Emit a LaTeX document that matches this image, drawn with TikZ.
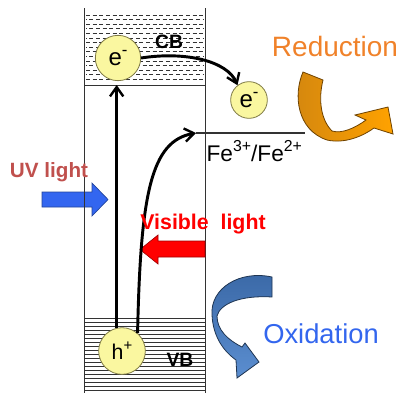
\documentclass[tikz,border=0pt]{standalone}
\usepackage{graphicx}
\usepackage{fontspec}
\setmainfont{Liberation Sans}
\usetikzlibrary{arrows.meta}
\newcommand\upx[1]{\raisebox{0.42em}{\scalebox{0.7}{#1}}}
\definecolor{ballfill}{HTML}{FAF7A0}
\definecolor{balledge}{HTML}{7F7A45}
\definecolor{lineg}{HTML}{333333}
\definecolor{uvtext}{HTML}{C0504D}
\definecolor{uvfill}{HTML}{3366F0}
\definecolor{uvedge}{HTML}{22449A}
\definecolor{visred}{HTML}{FF0000}
\definecolor{visedge}{HTML}{A00000}
\definecolor{redtext}{HTML}{F0822A}
\definecolor{oxtext}{HTML}{3366EE}
\definecolor{orA}{HTML}{D4870F}
\definecolor{orB}{HTML}{FFA200}
\definecolor{oredge}{HTML}{6E4200}
\definecolor{blA}{HTML}{3A68A6}
\definecolor{blB}{HTML}{5B8ED0}
\definecolor{bledge}{HTML}{1F3552}
\tikzset{
  boxline/.style={draw=lineg,line width=0.7pt},
  cbdash/.style={draw=lineg,line width=0.6pt,dash pattern=on 3pt off 2pt},
  vbline/.style={draw=lineg,line width=0.45pt},
  ball/.style={circle,fill=ballfill,draw=balledge,line width=0.6pt,inner sep=0pt,font=\fontsize{18}{18}\selectfont},
  carrier/.style={line width=2.2pt,black,-{Straight Barb[length=7pt,width=10pt,line width=1.8pt]}},
  bandlabel/.style={font=\fontsize{14.5}{15}\selectfont\bfseries},
}
\begin{document}
\begin{tikzpicture}[x=0.75pt,y=-0.75pt]
\useasboundingbox (0,0) rectangle (398,393);
% UV arrow (behind the box line)
\draw[fill=uvfill,draw=uvedge,line width=0.5pt] (42,192) -- (92,192) -- (92,183) -- (108,199.5) -- (92,216) -- (92,207) -- (42,207) -- cycle;
% CB dashes
\foreach \y in {15,24.2,...,83} \draw[cbdash] (86,\y) -- (204,\y);
\foreach \y in {19.6,28.8,...,83} \draw[cbdash,dash phase=2.5pt] (86,\y) -- (204,\y);
% VB lines
\foreach \y in {318,322,...,391} \draw[vbline] (84,\y) -- (205,\y);
% box
\coordinate (tl) at (84,8);
\coordinate (bl) at (84,393);
\coordinate (tr) at (205,8);
\coordinate (br) at (205,393);
\coordinate (cbl) at (84,85);
\coordinate (cbr) at (205,85);
\draw[boxline] (tl) -- (bl);
\draw[boxline] (tr) -- (br);
\draw[boxline] (cbl) -- (cbr);
% redox level
\coordinate (fe) at (196,133);
\coordinate (fee) at (305,133);
\draw[line width=0.8pt,lineg] (fe) -- (fee);
% visible light arrow
\draw[fill=visred,draw=visedge,line width=0.5pt] (205,241) -- (158,241) -- (158,235) -- (140,249.5) -- (158,264) -- (158,257) -- (205,257) -- cycle;
% carriers
\node[ball,minimum size=34pt] (e1) at (118,58) {e\upx{-}};
\node[ball,minimum size=27.5pt] (e2) at (249,100) {e\upx{-}};
\node[ball,minimum size=35pt,font=\fontsize{16}{16}\selectfont] (h) at (122,351) {h\upx{+}};
% band labels
\node[bandlabel] (cb) at (169,42) {CB};
\node[bandlabel] (vb) at (180,360) {VB};
% connectors
\draw[carrier] (h.103) -- (h.103 |- cbl);
\draw[carrier] (h.49) .. controls +(3,-140) and +(-45,8) .. (fe);
\draw[carrier] (e1.east) .. controls +(45,-7) and +(-10,-24) .. (e2.128);
% texts
\node[anchor=west,font=\fontsize{17}{17}\selectfont,inner sep=1pt] (fetext) at (205,151) {Fe\upx{3+}/Fe\upx{2+}};
\node[font=\fontsize{15.5}{16}\selectfont\bfseries,text=uvtext] (uv) at (49,172) {UV light};
\node[font=\fontsize{16}{16}\selectfont\bfseries,text=visred] (vis) at (203,224) {Visible\ \ light};
\node[font=\fontsize{21}{21}\selectfont,text=redtext] (red) at (335,46) {Reduction};
\node[font=\fontsize{20.5}{21}\selectfont,text=oxtext] (ox) at (321,334) {Oxidation};
% reduction ribbon arrow
\path[draw=oredge,line width=0.6pt,left color=orA,right color=orB]
  (303,72) .. controls (293,95) and (297,130) .. (327,140)
  .. controls (345,144) and (363,136) .. (374,128)
  -- (393,134) -- (388,107) -- (355,115) -- (366,120)
  .. controls (355,128) and (342,134) .. (332,131)
  .. controls (321,120) and (318,100) .. (323,80) -- cycle;
% oxidation ribbon arrow
\path[draw=bledge,line width=0.6pt,top color=blA,bottom color=blB]
  (272,277) .. controls (240,270) and (210,288) .. (212,315)
  .. controls (213,335) and (222,350) .. (236,360)
  -- (237,378) -- (259,362) -- (245,343) -- (242,347)
  .. controls (228,340) and (217,330) .. (217,316)
  .. controls (220,304) and (240,295) .. (272,297) -- cycle;
\end{tikzpicture}
\end{document}
